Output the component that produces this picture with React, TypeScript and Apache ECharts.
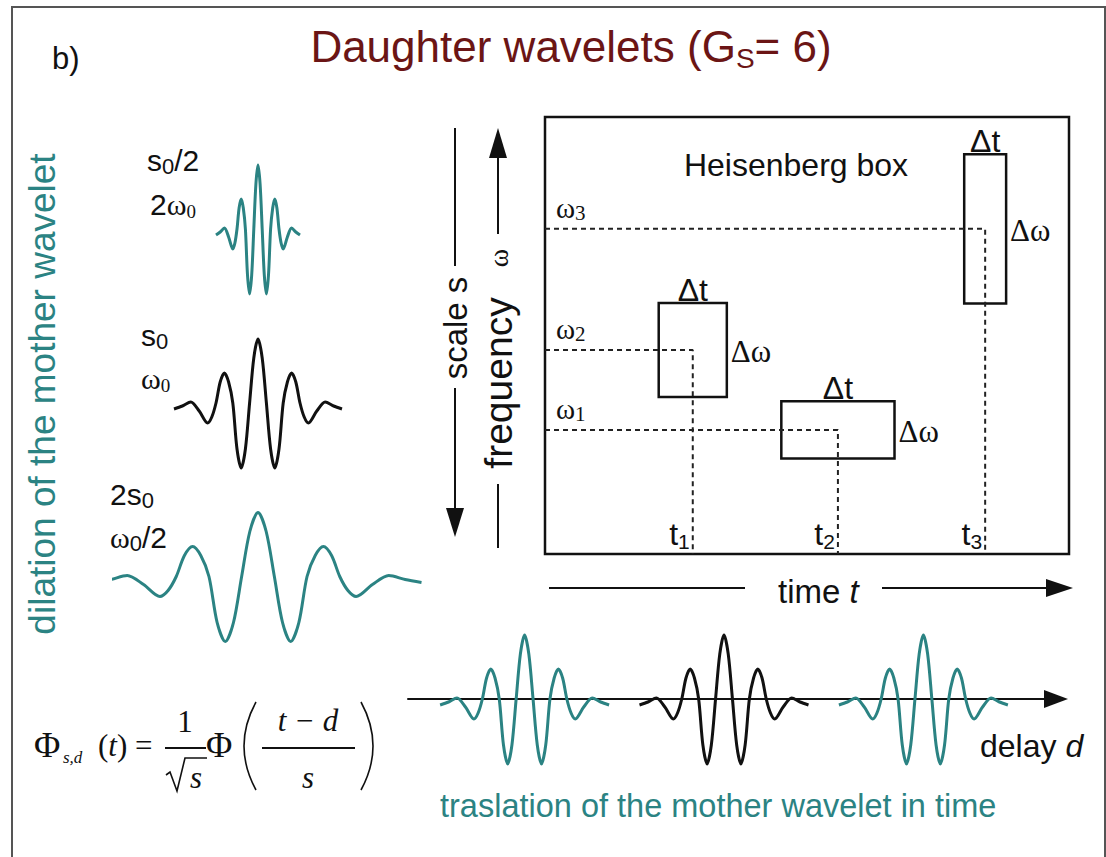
import React, { useEffect, useRef } from "react";
import * as echarts from "echarts";

const SANS = "'Liberation Sans', Arial, Helvetica, sans-serif";
const SERIF = "'Liberation Serif', 'Times New Roman', Times, serif";
const TEAL = "#2b8383";
const INK = "#111111";
const MAROON = "#6b1515";

// Mother wavelet: position in half-periods, amplitude
const motherT = [-5, -4.5, -4, -3.5, -3, -2.75, -2.5, -2.25, -2, -1.75, -1.5, -1.25, -1, -0.75, -0.5, -0.25, 0,
  0.25, 0.5, 0.75, 1, 1.25, 1.5, 1.75, 2, 2.25, 2.5, 2.75, 3, 3.5, 4, 4.5, 5];
const motherV = [-6, -3, 1, -8, -20, -14, 0, 21, 30, 21, 0, -46, -65, -46, 0, 45, 64,
  45, 0, -46, -65, -46, 0, 21, 30, 21, 0, -14, -20, -8, 1, -3, -6];

// Dilation (scale factors) of the mother wavelet
const dilationScales = [0.5, 1, 2];
const dilationColors = [TEAL, INK, TEAL];
const dilationMin = [-2.5, -5, -8.8];
const dilationMax = [2.5, 5, 10];

// Translation (delays along the delay axis, half-period units)
const delays = [6.9, 18.7, 30.5];
const delayColors = [TEAL, INK, TEAL];
const delayAxisMax = 38.5;

// Heisenberg boxes: centre time, centre frequency, widths
const boxTime = [2.82, 5.59, 8.4];
const boxFreq = [4.67, 2.84, 7.44];
const boxDt = [1.3, 2.16, 0.8];
const boxDw = [2.15, 1.31, 3.41];
const timeNames = ["1", "2", "3"];
const freqTicks = [2.84, 4.67, 7.44];
const freqNames = ["1", "2", "3"];

export default function App() {
  const ref = useRef<HTMLDivElement>(null);
  useEffect(() => {
    document.body.style.margin = "0";
    const chart = echarts.init(ref.current!, null, { renderer: "svg" });

    const grids: any[] = [
      { left: 216, top: 159, width: 84, height: 140 },
      { left: 174, top: 333, width: 168, height: 140 },
      { left: 258 - 8.8 * 16.35, top: 506.5, width: 18.8 * 16.35, height: 140 },
      { left: 408, top: 629, width: 650.6, height: 140 },
      { left: 545, top: 117, width: 524, height: 437, show: true, borderColor: INK, borderWidth: 2.5, backgroundColor: "transparent" },
    ];
    const hidden = { show: false };
    const xAxes: any[] = [];
    const yAxes: any[] = [];
    for (let i = 0; i < 3; i++) {
      xAxes.push({ type: "value", gridIndex: i, min: dilationMin[i], max: dilationMax[i], ...hidden });
      yAxes.push({ type: "value", gridIndex: i, min: -70, max: 70, ...hidden });
    }
    xAxes.push({
      type: "value", gridIndex: 3, min: 0, max: delayAxisMax,
      axisLine: { show: true, onZero: true, lineStyle: { color: INK, width: 2 } },
      axisTick: { show: false }, axisLabel: { show: false }, splitLine: { show: false },
    });
    yAxes.push({ type: "value", gridIndex: 3, min: -70, max: 70, ...hidden });
    xAxes.push({ type: "value", gridIndex: 4, min: 0, max: 10, ...hidden });
    yAxes.push({ type: "value", gridIndex: 4, min: 0, max: 10, ...hidden });

    const series: any[] = [];
    dilationScales.forEach((s, i) => {
      series.push({
        type: "line", xAxisIndex: i, yAxisIndex: i, smooth: 0.3, symbol: "none", clip: true,
        data: motherT.map((t, k) => [t * s, motherV[k]]),
        lineStyle: { color: dilationColors[i], width: 3 },
      });
    });
    delays.forEach((d, i) => {
      series.push({
        type: "line", xAxisIndex: 3, yAxisIndex: 3, smooth: 0.3, symbol: "none",
        data: motherT.map((t, k) => [t + d, motherV[k]]),
        lineStyle: { color: delayColors[i], width: 3 }, z: 3,
      });
    });
    // dashed guide lines
    boxTime.forEach((t, i) => {
      series.push({
        type: "line", xAxisIndex: 4, yAxisIndex: 4, symbol: "none",
        data: [[0, boxFreq[i]], [t, boxFreq[i]], [t, 0]],
        lineStyle: { color: "#222", width: 2, type: [5, 4] },
      });
    });
    // Heisenberg boxes with Δt and Δω labels
    series.push({
      type: "custom", xAxisIndex: 4, yAxisIndex: 4,
      data: boxTime.map((t, i) => [t, boxFreq[i], boxDt[i], boxDw[i]]),
      renderItem: (params: any, api: any) => {
        const t = api.value(0), w = api.value(1), dt = api.value(2), dw = api.value(3);
        const a = api.coord([t - dt / 2, w + dw / 2]);
        const b = api.coord([t + dt / 2, w - dw / 2]);
        return {
          type: "group",
          children: [
            { type: "rect", shape: { x: a[0], y: a[1], width: b[0] - a[0], height: b[1] - a[1] }, style: { fill: "none", stroke: INK, lineWidth: 2.5 } },
            { type: "text", x: (a[0] + b[0]) / 2, y: a[1] + 3, style: { text: "Δt", fontSize: 32, fontFamily: SANS, fill: INK, align: "center", verticalAlign: "bottom" } },
            { type: "text", x: b[0] + 4, y: (a[1] + b[1]) / 2 + 2, style: { text: "Δω", fontSize: 31, fontFamily: SERIF, fill: INK, align: "left", verticalAlign: "middle" } },
          ],
        };
      },
    });
    // t and ω labels
    series.push({
      type: "custom", xAxisIndex: 4, yAxisIndex: 4,
      data: boxTime.map((t, i) => [t, 0, i]),
      renderItem: (params: any, api: any) => {
        const p = api.coord([api.value(0), api.value(1)]);
        return {
          type: "text", x: p[0] - 3, y: p[1] - 2,
          style: {
            text: `{a|t}{b|${timeNames[api.value(2)]}}`, align: "right", verticalAlign: "bottom",
            rich: {
              a: { fontSize: 32, fontFamily: SANS, fill: INK, lineHeight: 36 },
              b: { fontSize: 21, fontFamily: SANS, fill: INK, lineHeight: 16, verticalAlign: "bottom" },
            },
          },
        };
      },
    });
    series.push({
      type: "custom", xAxisIndex: 4, yAxisIndex: 4,
      data: freqTicks.map((w, i) => [0, w, i]),
      renderItem: (params: any, api: any) => {
        const p = api.coord([api.value(0), api.value(1)]);
        return {
          type: "text", x: p[0] + 11, y: p[1] - 5,
          style: {
            text: `{a|ω}{b|${freqNames[api.value(2)]}}`, align: "left", verticalAlign: "bottom",
            rich: {
              a: { fontSize: 29, fontFamily: SERIF, fill: INK, lineHeight: 32 },
              b: { fontSize: 21, fontFamily: SERIF, fill: INK, lineHeight: 14, verticalAlign: "bottom" },
            },
          },
        };
      },
    });

    const line = (x1: number, y1: number, x2: number, y2: number, w = 2) => ({
      type: "line", silent: true, shape: { x1, y1, x2, y2 }, style: { stroke: INK, lineWidth: w },
    });
    const tri = (pts: number[][]) => ({ type: "polygon", silent: true, shape: { points: pts }, style: { fill: INK } });
    const text = (x: number, y: number, t: string, size: number, o: any = {}) => ({
      type: "text", x, y, rotation: o.rotation || 0, silent: true,
      style: {
        text: t, fontSize: size, fontFamily: o.family || SANS, fill: o.color || INK,
        fontStyle: o.italic ? "italic" : "normal",
        align: o.align || "left", verticalAlign: o.va || "middle", rich: o.rich,
      },
    });
    const sub = (size: number, subSize: number) => ({
      a: { fontSize: size, fontFamily: SANS, fill: INK, lineHeight: size + 4 },
      w: { fontSize: size, fontFamily: SERIF, fill: INK, lineHeight: size + 4 },
      b: { fontSize: subSize, fontFamily: SANS, fill: INK, lineHeight: Math.round(subSize * 0.8), verticalAlign: "bottom" },
      c: { fontSize: subSize - 3, fontFamily: SERIF, fill: INK, lineHeight: Math.round(subSize * 0.8), verticalAlign: "bottom" },
    });

    const graphics: any[] = [
      // frame
      { type: "polyline", silent: true, shape: { points: [[12, 900], [12, 7], [1105, 7], [1105, 900]] }, style: { stroke: "#555", lineWidth: 2, fill: "none" } },
      text(52, 58, "b)", 31),
      text(571, 46, "{a|Daughter wavelets (G}{b|S}{a|= 6)}", 44, {
        align: "center",
        rich: {
          a: { fontSize: 44, fontFamily: SANS, fill: MAROON, lineHeight: 52 },
          b: { fontSize: 28, fontFamily: SANS, fill: MAROON, lineHeight: 22, verticalAlign: "bottom" },
        },
      }),
      text(42, 394, "dilation of the mother wavelet", 37, { rotation: Math.PI / 2, align: "center", color: TEAL }),
      // dilation labels
      text(147, 160, "{a|s}{b|0}{a|/2}", 30, { rich: sub(30, 22) }),
      text(150, 204, "{a|2}{w|ω}{c|0}", 30, { rich: sub(30, 22) }),
      text(141, 335, "{a|s}{b|0}", 30, { rich: sub(30, 22) }),
      text(141, 378, "{w|ω}{c|0}", 30, { rich: sub(30, 22) }),
      text(110, 494, "{a|2s}{b|0}", 30, { rich: sub(30, 22) }),
      text(110, 537, "{w|ω}{b|0}{a|/2}", 30, { rich: sub(30, 22) }),
      // scale arrow
      line(455, 128, 455, 266),
      text(455, 328, "scale s", 33, { rotation: Math.PI / 2, align: "center" }),
      line(455, 388, 455, 510),
      tri([[446, 508], [464, 508], [455, 537]]),
      // frequency arrow
      line(498, 548, 498, 484),
      text(498, 383, "frequency", 39, { rotation: Math.PI / 2, align: "center" }),
      text(498, 258, "ω", 28, { rotation: Math.PI / 2, align: "center", family: SERIF }),
      line(498, 234, 498, 156),
      tri([[489, 158], [507, 158], [498, 128]]),
      // Heisenberg label
      text(796, 165, "Heisenberg box", 32, { align: "center" }),
      // time arrow
      line(549, 588, 745, 588),
      text(778, 591, "{a|time }{i|t}", 33, {
        rich: {
          a: { fontSize: 33, fontFamily: SANS, fill: INK },
          i: { fontSize: 33, fontFamily: SANS, fill: INK, fontStyle: "italic" },
        },
      }),
      line(882, 588, 1048, 588),
      tri([[1046, 579], [1046, 597], [1073, 588]]),
      // translation axis arrowhead and labels
      tri([[1044, 690], [1044, 708], [1068, 699]]),
      text(980, 746, "{a|delay }{i|d}", 32, {
        rich: {
          a: { fontSize: 32, fontFamily: SANS, fill: INK },
          i: { fontSize: 32, fontFamily: SANS, fill: INK, fontStyle: "italic" },
        },
      }),
      text(440, 806, "traslation of the mother wavelet in time", 32.5, { color: TEAL }),
      // formula
      text(34, 745, "Φ", 36, { family: SERIF }),
      text(63, 757, "s,d", 17, { family: SERIF, italic: true }),
      text(98, 745, "{n|(}{i|t}{n|) =}", 31, {
        rich: {
          n: { fontSize: 31, fontFamily: SERIF, fill: INK },
          i: { fontSize: 31, fontFamily: SERIF, fill: INK, fontStyle: "italic" },
        },
      }),
      text(185, 721, "1", 31, { family: SERIF, align: "center" }),
      line(165, 748, 206, 748, 1.8),
      { type: "polyline", silent: true, shape: { points: [[166, 775], [170, 772], [177, 791], [185, 758], [207, 758]] }, style: { stroke: INK, lineWidth: 1.6, fill: "none" } },
      text(196, 777, "s", 31, { family: SERIF, italic: true, align: "center" }),
      text(206, 745, "Φ", 36, { family: SERIF }),
      { type: "bezierCurve", silent: true, shape: { x1: 256, y1: 702, cpx1: 232, cpy1: 746, x2: 256, y2: 790 }, style: { stroke: INK, lineWidth: 1.6, fill: "none" } },
      text(308, 720, "t − d", 31, { family: SERIF, italic: true, align: "center" }),
      line(262, 748, 355, 748, 1.8),
      text(308, 777, "s", 31, { family: SERIF, italic: true, align: "center" }),
      { type: "bezierCurve", silent: true, shape: { x1: 361, y1: 702, cpx1: 385, cpy1: 746, x2: 361, y2: 790 }, style: { stroke: INK, lineWidth: 1.6, fill: "none" } },
    ];

    chart.setOption({
      animation: false,
      backgroundColor: "#ffffff",
      grid: grids,
      xAxis: xAxes,
      yAxis: yAxes,
      series,
      graphic: { elements: graphics },
    });
    return () => chart.dispose();
  }, []);
  return <div ref={ref} style={{ width: 1106, height: 857 }} />;
}
